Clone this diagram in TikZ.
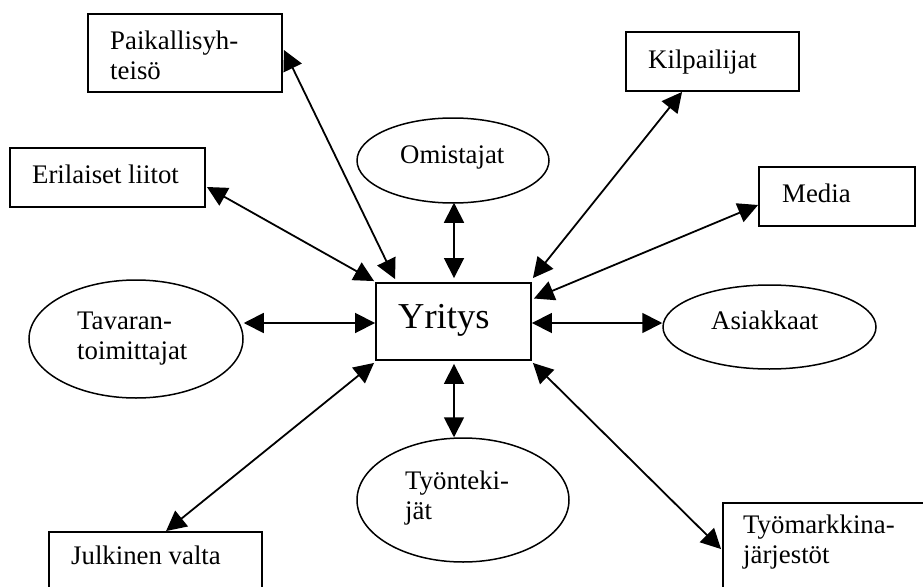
\documentclass[tikz,border=0pt]{standalone}
\usepackage{fontspec}
\setmainfont{Liberation Serif}
\usetikzlibrary{arrows.meta,shapes.geometric,calc}

\tikzset{
  box/.style={draw, line width=1.9pt, rectangle, inner sep=0pt},
  oval/.style={draw, line width=1.5pt, ellipse, inner sep=0pt},
  txt/.style={anchor=base west, inner sep=0pt,
    font=\fontsize{26.8}{30.5}\selectfont},
  link/.style={line width=1.8pt,
    {Triangle[length=20pt,width=20pt]}-{Triangle[length=20pt,width=20pt]}}
}
\newcommand{\twolines}[2]{\begin{tabular}[t]{@{}l@{}}#1\\#2\end{tabular}}

\begin{document}
\begin{tikzpicture}[x=1pt,y=-1pt]
\clip (0,0) rectangle (923,586);
\fill[white] (0,0) rectangle (923,586);

% central company
\node[box, minimum width=155pt, minimum height=77pt] (yr) at (453.5,321.5) {};
\node[anchor=base west, inner sep=0pt, font=\fontsize{36.5}{40}\selectfont] (yrt) at (398,328) {Yritys};

% stakeholders in boxes
\node[box, minimum width=194pt, minimum height=78pt] (pk) at (185,53) {};
\node[txt] (pkt) at (110,49) {\twolines{Paikallisyh-}{teisö}};

\node[box, minimum width=195pt, minimum height=59pt] (er) at (107.5,177.5) {};
\node[txt] (ert) at (32,183) {Erilaiset liitot};

\node[box, minimum width=173pt, minimum height=59pt] (kp) at (712.5,61.5) {};
\node[txt] (kpt) at (648,68) {Kilpailijat};

\node[box, minimum width=156pt, minimum height=59pt] (md) at (837,196.5) {};
\node[txt] (mdt) at (782,202) {Media};

\node[box, minimum width=213pt, minimum height=68pt] (jv) at (155.5,566) {};
\node[txt] (jvt) at (71,564) {Julkinen valta};

\node[box, minimum width=214pt, minimum height=97pt] (tm) at (830,551.5) {};
\node[txt] (tmt) at (743,533) {\twolines{Työmarkkina-}{järjestöt}};

% stakeholders in ellipses
\node[oval, minimum width=192pt, minimum height=85pt] (om) at (453,160.5) {};
\node[txt] (omt) at (400,163) {Omistajat};

\node[oval, minimum width=214pt, minimum height=118pt] (tv) at (136,339) {};
\node[txt] (tvt) at (77,329) {\twolines{Tavaran-}{toimittajat}};

\node[oval, minimum width=213pt, minimum height=84pt] (as) at (769.5,327) {};
\node[txt] (ast) at (711,329) {Asiakkaat};

\node[oval, minimum width=212pt, minimum height=124pt] (ty) at (463,500) {};
\node[txt] (tyt) at (405,489) {\twolines{Työnteki-}{jät}};

% two-way relations
\draw[link] ($(pk.east)+(1,-3)$) -- ($(yr.north west)+(20,-3)$);
\draw[link] ($(er.east)+(1,9.5)$) -- ($(yr.north west)+(-1,-1)$);
\draw[link] ($(om.south)+(1,-1)$) -- ($(yr.north)+(0.5,-4)$);
\draw[link] ($(kp.south west)+(57,0)$) -- ($(yr.north east)+(1,-4)$);
\draw[link] ($(md.west)+(0,8.5)$) -- ($(yr.east)+(2,-23)$);
\draw[link] ($(tv.east)+(0,-16)$) -- ($(yr.west)+(0,1.5)$);
\draw[link] ($(yr.east)+(0,1.5)$) -- ($(as.west)+(0,-4)$);
\draw[link] ($(yr.south west)+(-1,2)$) -- ($(jv.north west)+(118,0)$);
\draw[link] ($(yr.south)+(0.5,3)$) -- ($(ty.north)+(-9,0)$);
\draw[link] ($(yr.south east)+(1,2)$) -- ($(tm.north west)+(-1,47)$);
\end{tikzpicture}
\end{document}
